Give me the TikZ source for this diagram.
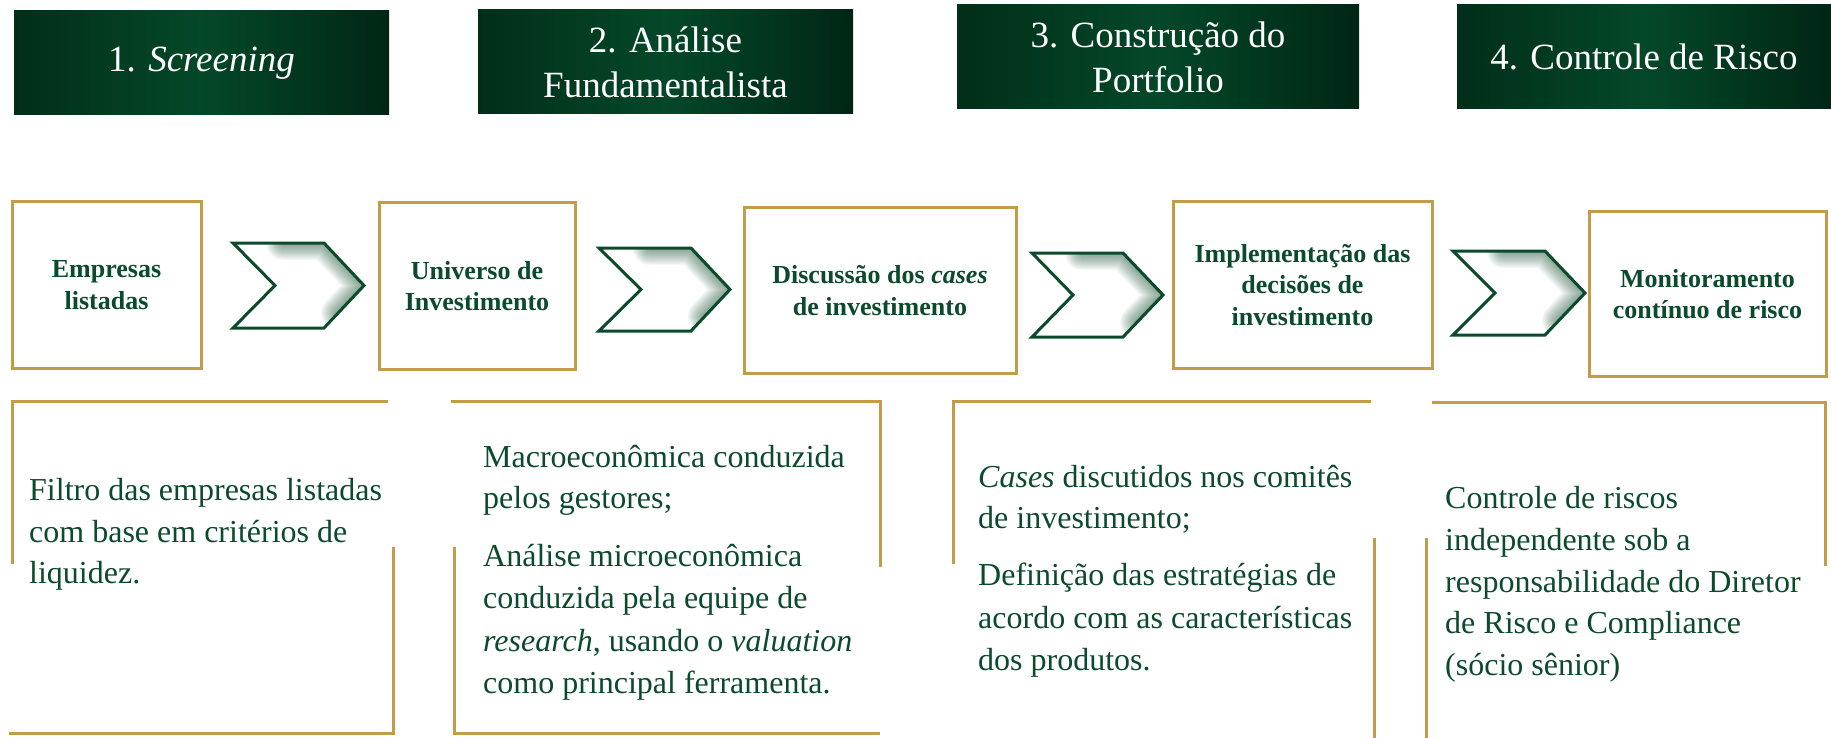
\documentclass[tikz,border=0pt]{standalone}
\usepackage{fontspec}
\setmainfont{Liberation Serif}
\definecolor{gold}{RGB}{196,155,72}
\definecolor{tgreen}{RGB}{11,74,42}
\definecolor{hdark}{RGB}{1,46,25}
\definecolor{hdarker}{RGB}{0,38,21}
\definecolor{hmid}{RGB}{4,72,40}
\newcommand\mychev[6]{%
  \pgfmathsetmacro\ymid{(#5+#6)/2}
  \begin{scope}
    \clip (#1,#5) -- (#3,#5) -- (#4,\ymid) -- (#3,#6) -- (#1,#6) -- (#2,\ymid) -- cycle;
    \fill[white] (#1,#5) rectangle (#4,#6);
    \foreach \w in {2,4,...,34}
      \draw[tgreen, line width=\w pt, opacity=0.035, line join=round, line cap=round]
        ({#1+0.55*(#3-#1)},#5) -- (#3,#5) -- (#4,\ymid) -- ({#3+0.35*(#4-#3)},{#6-0.35*(#6-#5)/2});
  \end{scope}
  \draw[tgreen, line width=3pt, line join=miter]
    (#1,#5) -- (#3,#5) -- (#4,\ymid) -- (#3,#6) -- (#1,#6) -- (#2,\ymid) -- cycle;
}
\begin{document}
\begin{tikzpicture}[x=1pt,y=-1pt,
  header/.style={left color=hdark, right color=hdarker, middle color=hmid,
    draw=none, text=white, align=center, inner sep=0pt,
    font=\fontsize{37}{45}\selectfont},
  stepbox/.style={draw=gold, line width=3pt, fill=white, align=center, inner sep=0pt,
    text=tgreen, font=\fontsize{26}{31.5}\selectfont\bfseries},
  bodyline/.style={anchor=base west, inner sep=0pt, text=tgreen,
    font=\fontsize{32}{41}\selectfont},
  bracket/.style={draw=gold, line width=3pt}]
\useasboundingbox (0,0) rectangle (1831,738);

% headers
\node[header, minimum width=375pt, minimum height=104pt] (h1) at (201.5,63) {1. \textit{Screening}};
\node[header, minimum width=375pt, minimum height=104pt] (h2) at (665.5,62) {2. Análise\\Fundamentalista};
\node[header, minimum width=402pt, minimum height=104pt] (h3) at (1158,57) {3. Construção do\\Portfolio};
\node[header, minimum width=374pt, minimum height=104pt] (h4) at (1644,57) {4. Controle de Risco};

% step boxes
\node[stepbox, minimum width=189pt, minimum height=166pt] (b1) at (106.5,285) {Empresas\\listadas};
\node[stepbox, minimum width=196pt, minimum height=166pt] (b2) at (477,286) {Universo de\\Investimento};
\node[stepbox, minimum width=272pt, minimum height=165pt] (b3) at (880,290.5) {Discussão dos \textit{cases}\\de investimento};
\node[stepbox, minimum width=259pt, minimum height=166pt] (b4) at (1302.5,285) {Implementação das\\decisões de\\investimento};
\node[stepbox, minimum width=237pt, minimum height=165pt] (b5) at (1707.5,294) {Monitoramento\\contínuo de risco};

% chevrons
\mychev{233}{275}{324}{364}{243}{328}
\mychev{599}{641}{691}{730}{248}{331}
\mychev{1032}{1073}{1123}{1163}{253}{337}
\mychev{1453}{1495}{1545}{1585}{251}{335}

% brackets
\draw[bracket] (388,401) -- (12,401) -- (12,564);
\draw[bracket] (393,547) -- (393,733) -- (9,733);
\draw[bracket] (451,401) -- (880,401) -- (880,567);
\draw[bracket] (454,547) -- (454,733) -- (880,733);
\draw[bracket] (1371,401) -- (953,401) -- (953,564);
\draw[bracket] (1374,538) -- (1374,740);
\draw[bracket] (1432,402) -- (1825,402) -- (1825,566);
\draw[bracket] (1426,538) -- (1426,740);

% texts
\node[bodyline] (t1a) at (29,500) {Filtro das empresas listadas};
\node[bodyline] (t1b) at (29,542) {com base em critérios de};
\node[bodyline] (t1c) at (29,583) {liquidez.};

\node[bodyline] (t2a) at (483,467) {Macroeconômica conduzida};
\node[bodyline] (t2b) at (483,508) {pelos gestores;};
\node[bodyline] (t2c) at (483,566) {Análise microeconômica};
\node[bodyline] (t2d) at (483,608) {conduzida pela equipe de};
\node[bodyline] (t2e) at (483,651) {\textit{research}, usando o \textit{valuation}};
\node[bodyline] (t2f) at (483,693) {como principal ferramenta.};

\node[bodyline] (t3a) at (978,487) {\textit{Cases} discutidos nos comitês};
\node[bodyline] (t3b) at (978,528) {de investimento;};
\node[bodyline] (t3c) at (978,585) {Definição das estratégias de};
\node[bodyline] (t3d) at (978,628) {acordo com as características};
\node[bodyline] (t3e) at (978,670) {dos produtos.};

\node[bodyline] (t4a) at (1445,508) {Controle de riscos};
\node[bodyline] (t4b) at (1445,550) {independente sob a};
\node[bodyline] (t4c) at (1445,592) {responsabilidade do Diretor};
\node[bodyline] (t4d) at (1445,633) {de Risco e Compliance};
\node[bodyline] (t4e) at (1445,675) {(sócio sênior)};
\end{tikzpicture}
\end{document}
